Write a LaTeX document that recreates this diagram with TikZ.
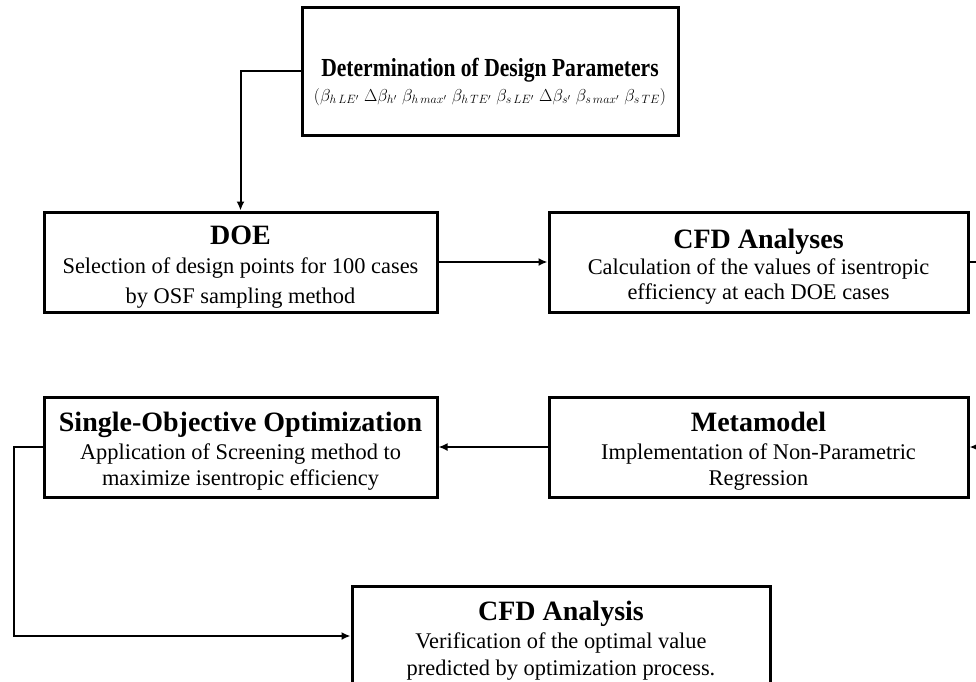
\documentclass[tikz,border=0pt]{standalone}
\usepackage{fontspec}
\setmainfont{Liberation Serif}
\newfontfamily\condfont{Liberation Serif}[FakeStretch=0.83]
\usetikzlibrary{arrows.meta}

\newcommand{\stagehead}[1]{{\fontsize{28}{32}\selectfont\bfseries\rule{0pt}{28pt}#1}}

\tikzset{
  stage/.style={draw, line width=3pt, align=center, inner sep=0pt,
    font=\fontsize{22.4}{28}\selectfont},
  link/.style={line width=2pt},
  arr/.style={link, -{Latex[length=9pt,width=8pt]}}
}

\begin{document}
\begin{tikzpicture}[x=1pt,y=-1pt]
\useasboundingbox (0,0) rectangle (976,681);
\clip (0,0) rectangle (976,681);
% stages
\node[stage, minimum width=376, minimum height=128] (param) at (490,71)
  {{\condfont\fontsize{26}{30}\selectfont\bfseries\rule{0pt}{40pt}Determination of Design Parameters}\\[-3pt]
   {\fontsize{18}{22}\selectfont$(\beta_{h\,LE'}\;\Delta\beta_{h'}\;\beta_{h\,max'}\;\beta_{h\,TE'}\;\beta_{s\,LE'}\;\Delta\beta_{s'}\;\beta_{s\,max'}\;\beta_{s\,TE})$}};
\node[stage, minimum width=393, minimum height=100] (doe) at (240.5,262)
  {\stagehead{DOE}\\[1pt] Selection of design points for 100 cases\\[2pt] by OSF sampling method};
\node[stage, minimum width=419, minimum height=100] (cfds) at (758.5,262)
  {\stagehead{CFD Analyses}\\[-2pt] Calculation of the values of isentropic\\[-3pt] efficiency at each DOE cases};
\node[stage, minimum width=419, minimum height=100] (meta) at (758.5,447)
  {\stagehead{Metamodel}\\ Implementation of Non-Parametric\\[-2pt] Regression};
\node[stage, minimum width=393, minimum height=100] (soo) at (240.5,447)
  {\stagehead{Single-Objective Optimization}\\ Application of Screening method to\\[-2pt] maximize isentropic efficiency};
\node[stage, minimum width=418, minimum height=100] (cfd) at (561,636)
  {\stagehead{CFD Analysis}\\ Verification of the optimal value\\[-1pt] predicted by optimization process.};
% connectors
\draw[arr] (param.west) -| (doe.north);
\draw[arr] (doe.east) -- (cfds.west);
\draw[arr] (cfds.east) -- ++(24,0) |- (meta.east);
\draw[arr] (meta.west) -- (soo.east);
\draw[arr] (soo.west) -- ++(-29,0) |- (cfd.west);
\end{tikzpicture}
\end{document}
